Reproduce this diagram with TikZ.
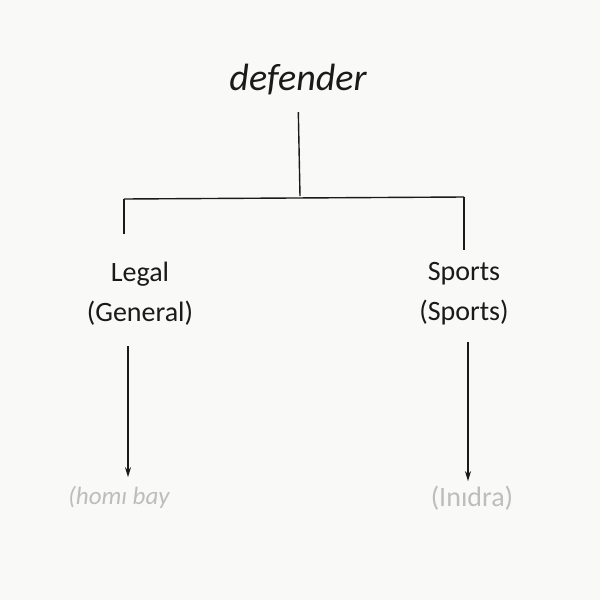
\documentclass[tikz,border=0pt]{standalone}
\usepackage{fontspec}
\setmainfont{Carlito}
\usetikzlibrary{arrows.meta,positioning}
\definecolor{paper}{HTML}{F9F9F7}
\definecolor{ink}{HTML}{1A1A1A}
\definecolor{faded}{HTML}{BDBDBD}

\begin{document}
\begin{tikzpicture}[x=1pt,y=-1pt,line width=1.4pt,
    every node/.style={font=\fontsize{28}{40}\selectfont,color=ink,align=center,inner sep=0pt},
    leaf/.style={color=faded},
    arrow/.style={-{Stealth[length=10pt,width=6pt]}}]
  \fill[paper] (0,0) rectangle (600,600);
  % root and the bar below it
  \node (root) at (298,80) {\fontsize{38}{44}\selectfont\itshape defender};
  \coordinate (hub) at (300,196);
  \coordinate (lft) at (124,199);
  \coordinate (rgt) at (464,197);
  \draw[ink,shorten <=16pt] (root.south) -- (hub);
  \draw[ink] (lft) -- (rgt);
  % the two senses
  \node (legal) at (140,294) {Legal\\(General)};
  \node (sports) at (464,294) {Sports\\(Sports)};
  \draw[ink,shorten >=28pt] (lft) -- (lft |- legal.north);
  \draw[ink,shorten >=12pt] (rgt) -- (rgt |- sports.north);
  % faded examples
  \node[leaf] (homi) at (119,497) {\fontsize{25}{30}\selectfont\itshape (homı bay};
  \node[leaf] (inidra) at (472,498) {(Inıdra)};
  \draw[ink,arrow,shorten <=20pt,shorten >=8pt] ([xshift=-12pt]legal.south) -- ([xshift=9pt]homi.north);
  \draw[ink,arrow,shorten <=16pt,shorten >=4pt] ([xshift=4pt]sports.south) -- ([xshift=-4pt]inidra.north);
\end{tikzpicture}
\end{document}
